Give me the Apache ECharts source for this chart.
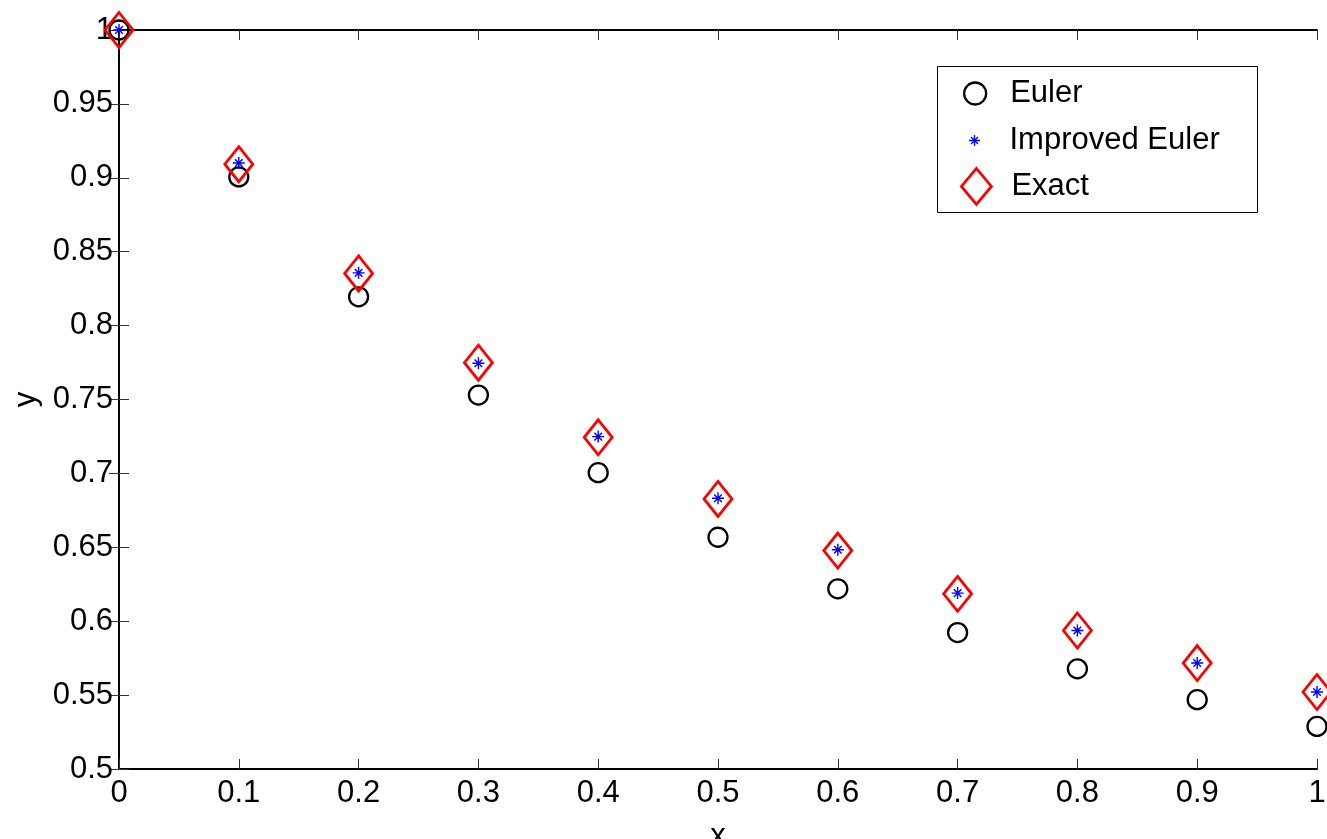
<html>
<head>
    <meta charset="UTF-8">
    <title>Euler vs Improved Euler</title>
    <script src="https://cdn.jsdelivr.net/npm/echarts@6/dist/echarts.min.js"></script>
</head>
<body style="margin:0">
    <div id="container" style="width: 1327px;height:839px;"></div>
</body>
<script>
    // values
    var xs = [0, 0.1, 0.2, 0.3, 0.4, 0.5, 0.6, 0.7, 0.8, 0.9, 1];
    var euler = [1, 0.9006, 0.8195, 0.7530, 0.7005, 0.6568, 0.6219, 0.5923, 0.5678, 0.5469, 0.5288];
    var improved = [1, 0.9100, 0.8357, 0.7745, 0.7249, 0.6832, 0.6483, 0.6190, 0.5937, 0.5717, 0.5521];
    var exact = [1, 0.9092, 0.8353, 0.7749, 0.7244, 0.6827, 0.6478, 0.6185, 0.5937, 0.5717, 0.5521];

    var FONT = 'Liberation Sans, Arial, sans-serif';
    var STAR = 'path://M5.3,0H6.7V12H5.3Z M0,5.3H12V6.7H0Z M1.7,2.7L2.7,1.7L10.3,9.3L9.3,10.3Z M9.3,1.7L10.3,2.7L2.7,10.3L1.7,9.3Z';
    var DIAMOND = 'path://M15,0L30,18L15,36L0,18Z';

    function pairs(ys) {
        var out = [];
        for (var i = 0; i < xs.length; i++) {
            out.push([xs[i], ys[i]]);
        }
        return out;
    }

    function axisCommon(min, max, interval) {
        return {
            type: 'value', min: min, max: max, interval: interval,
            axisLine: { show: true, lineStyle: { color: '#000', width: 2 } },
            axisTick: { show: true, inside: true, length: 10, lineStyle: { color: '#333', width: 1 } },
            splitLine: { show: false }
        };
    }

    var xBottom = axisCommon(0, 1, 0.1);
    xBottom.position = 'bottom';
    xBottom.axisLabel = { fontSize: 31, color: '#000', margin: 9, fontFamily: FONT };
    xBottom.name = 'x';
    xBottom.nameLocation = 'middle';
    xBottom.nameGap = 52;
    xBottom.nameTextStyle = { fontSize: 31, color: '#000', fontFamily: FONT };

    var xTop = axisCommon(0, 1, 0.1);
    xTop.position = 'top';
    xTop.axisLabel = { show: false };

    var yLeft = axisCommon(0.5, 1, 0.05);
    yLeft.position = 'left';
    yLeft.axisLabel = { fontSize: 31, color: '#000', margin: 6, fontFamily: FONT };
    yLeft.name = 'y';
    yLeft.nameLocation = 'middle';
    yLeft.nameGap = 74;
    yLeft.nameTextStyle = { fontSize: 31, color: '#000', fontFamily: FONT };

    var yRight = axisCommon(0.5, 1, 0.05);
    yRight.position = 'right';
    yRight.axisLabel = { show: false };

    function legendFor(name, icon, h, left, top, style) {
        style.opacity = 1;
        return {
            data: [{ name: name, icon: icon, itemStyle: style }],
            left: left, top: top, padding: 0,
            itemWidth: 60, itemHeight: h,
            symbolKeepAspect: true,
            textStyle: { fontSize: 31, color: '#000', fontFamily: FONT, lineHeight: 30 }
        };
    }

    var mycharts = echarts.init(document.getElementById('container'));
    var option = {
        animation: false,
        backgroundColor: '#fff',
        grid: { left: 119, right: 10, top: 30, bottom: 70, outerBoundsMode: 'none' },
        xAxis: [xBottom, xTop],
        yAxis: [yLeft, yRight],
        legend: [
            legendFor('Euler', 'circle', 22, 963, 78, { color: 'transparent', borderColor: '#000', borderWidth: 2.3 }),
            legendFor('Improved Euler', STAR, 11, 969, 125, { color: '#0000ff', borderWidth: 0 }),
            legendFor('Exact', DIAMOND, 36, 960, 167, { color: 'transparent', borderColor: '#ff0000', borderWidth: 2.8 })
        ],
        graphic: [{
            type: 'rect', left: 937, top: 66, z: 0,
            shape: { width: 320, height: 146 },
            style: { fill: '#fff', stroke: '#000', lineWidth: 1 }
        }],
        series: [
            {
                name: 'Euler', type: 'scatter', clip: false,
                symbol: 'circle', symbolSize: 19,
                itemStyle: { color: 'transparent', borderColor: '#000', borderWidth: 2.3, opacity: 1 },
                data: pairs(euler)
            },
            {
                name: 'Improved Euler', type: 'scatter', clip: false, z: 3,
                symbol: STAR, symbolSize: 12,
                itemStyle: { color: '#0000ff', opacity: 1 },
                data: pairs(improved)
            },
            {
                name: 'Exact', type: 'scatter', clip: false,
                symbol: 'diamond', symbolSize: [28, 35],
                itemStyle: { color: 'transparent', borderColor: '#ff0000', borderWidth: 2.8, opacity: 1 },
                data: pairs(exact)
            }
        ]
    };
    mycharts.setOption(option);
</script>
</html>
